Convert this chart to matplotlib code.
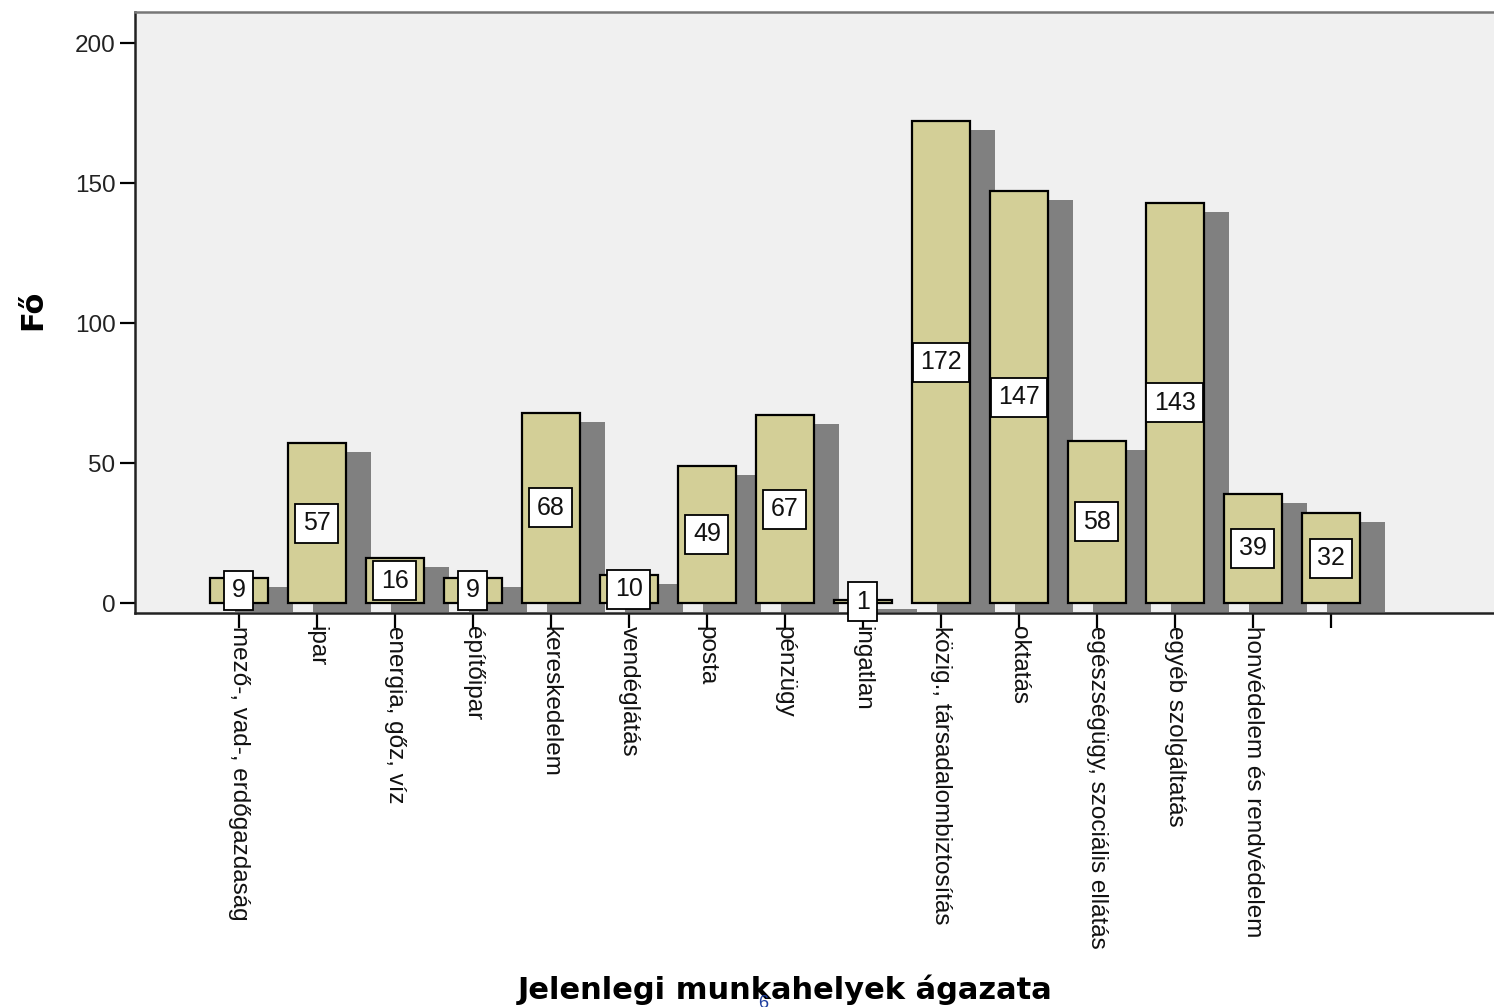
import numpy as np
import matplotlib
matplotlib.use('Agg')
import matplotlib.pyplot as plt

plt.rcParams['font.family'] = ['Liberation Sans', 'DejaVu Sans']

# Jelenlegi munkahelyek ágazata - létszám (fő)
categories = ['mező-, vad-, erdőgazdaság', 'ipar', 'energia, gőz, víz', 'építőipar',
              'kereskedelem', 'vendéglátás', 'posta', 'pénzügy', 'ingatlan',
              'közig., társadalombiztosítás', 'oktatás', 'egészségügy, szociális ellátás',
              'egyéb szolgáltatás', 'honvédelem és rendvédelem', '']
counts = [9, 57, 16, 9, 68, 10, 49, 67, 1, 172, 147, 58, 143, 39, 32]
yticks = [0, 50, 100, 150, 200]

bar_col = '#d3cf97'
shadow_col = '#808080'
bg_col = '#f0f0f0'

fig = plt.figure(figsize=(14.94, 10.07), dpi=100)
ax = fig.add_axes([135/1494, 1-613/1007, 1-135/1494, (613-12)/1007])
ax.set_facecolor(bg_col)

x = np.arange(len(counts))
w = 0.745
# shadow: shifted right and down
ax.bar(x + 0.32, counts, w, bottom=-3.2, color=shadow_col, edgecolor='none', zorder=1)
ax.bar(x, counts, w, color=bar_col, edgecolor='black', linewidth=1.6, zorder=2)

for xi, v in zip(x, counts):
    ax.text(xi, v/2, str(v), ha='center', va='center', fontsize=18, zorder=5,
            clip_on=False, color='#111111',
            bbox=dict(boxstyle='square,pad=0.3', fc='white', ec='black', lw=1.3))

ax.set_xlim(-1.33, 16.09)
ax.set_ylim(-3.57, 211.1)
ax.set_yticks(yticks)
ax.set_xticks(x)
ax.set_xticklabels(categories, rotation=-90, fontsize=17.5, color='#111111')
ax.tick_params(axis='x', length=11, width=1.6, direction='out', pad=-2)
ax.tick_params(axis='y', length=11, width=1.6, direction='out', pad=3, labelsize=17.5,
               labelcolor='#222222')

for s in ['left', 'bottom']:
    ax.spines[s].set_linewidth(1.8)
    ax.spines[s].set_color('#222222')
ax.spines['top'].set_color('#777777')
ax.spines['top'].set_linewidth(1.8)
ax.spines['right'].set_visible(False)

fig.text(33/1494, 1-310/1007, 'Fő', rotation=90, ha='center', va='center',
         fontsize=22, fontweight='bold', family='DejaVu Sans')
fig.text(785/1494, 1-990/1007, 'Jelenlegi munkahelyek ágazata', ha='center', va='center',
         fontsize=22, fontweight='bold', family='DejaVu Sans')
fig.text(763/1494, 1-995/1007, '6', ha='center', va='top', fontsize=13, color='#1f3f9f')

fig.savefig('out.png', dpi=100)
